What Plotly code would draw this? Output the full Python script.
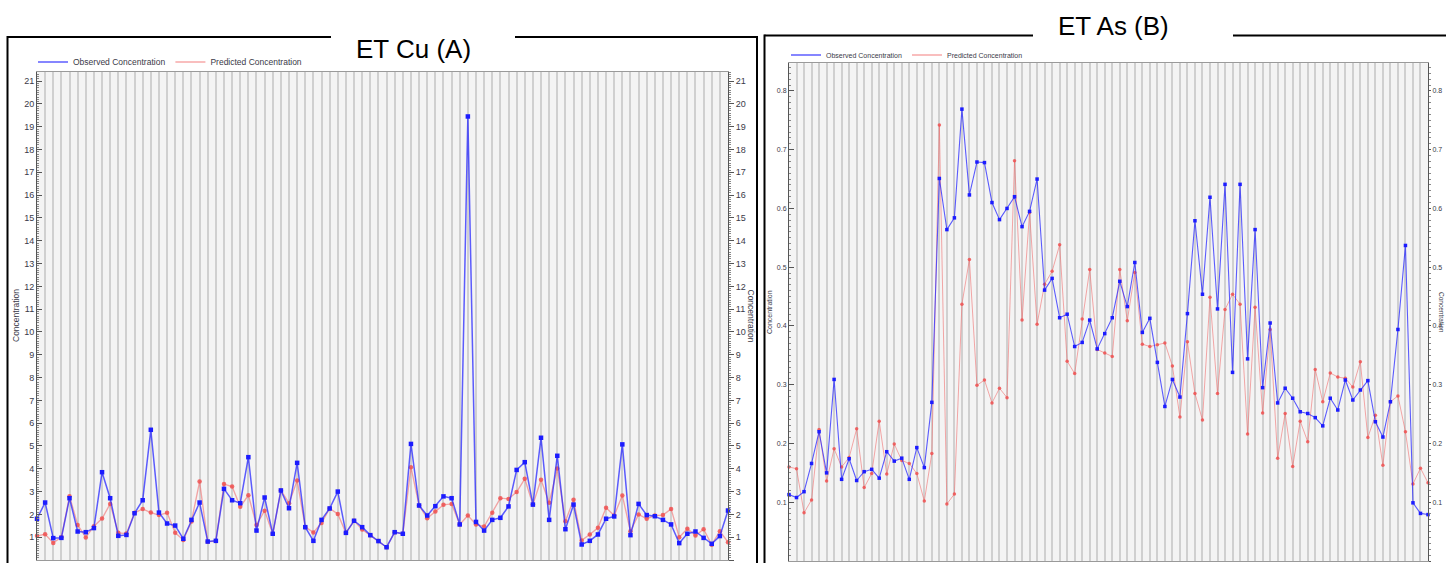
import plotly.graph_objects as go

# Sample numbers shared by both panels
samples = list(range(1, 87))

# ET Cu (A): observed vs predicted concentration
cu_observed = [1.81, 2.52, 0.96, 0.97, 2.71, 1.25, 1.22, 1.40, 3.85, 2.71,
               1.06, 1.10, 2.05, 2.62, 5.71, 2.08, 1.60, 1.51, 0.93, 1.76,
               2.52, 0.81, 0.84, 3.12, 2.62, 2.49, 4.51, 1.29, 2.74, 1.15,
               3.05, 2.27, 4.26, 1.44, 0.84, 1.76, 2.26, 3.00, 1.19, 1.72,
               1.44, 1.09, 0.83, 0.56, 1.22, 1.15, 5.09, 2.39, 1.95, 2.36,
               2.79, 2.71, 1.56, 19.45, 1.67, 1.29, 1.76, 1.85, 2.35, 3.95,
               4.29, 2.43, 5.36, 1.76, 4.57, 1.35, 2.43, 0.68, 0.84, 1.12,
               1.81, 1.91, 5.07, 1.09, 2.46, 1.97, 1.92, 1.76, 1.56, 0.74,
               1.15, 1.25, 0.97, 0.71, 1.05, 2.17]
cu_predicted = [1.06, 1.13, 0.75, 1.00, 2.80, 1.54, 0.99, 1.48, 1.82, 2.46,
                1.19, 1.16, 2.07, 2.24, 2.08, 1.97, 2.07, 1.19, 0.88, 1.69,
                3.44, 0.80, 0.83, 3.33, 3.22, 2.33, 2.84, 1.54, 2.16, 1.15,
                3.05, 2.49, 3.49, 1.44, 1.21, 1.62, 2.26, 2.02, 1.19, 1.72,
                1.34, 1.09, 0.83, 0.56, 1.22, 1.15, 4.07, 2.39, 1.83, 2.13,
                2.42, 2.46, 1.56, 1.95, 1.56, 1.47, 2.07, 2.71, 2.68, 2.98,
                3.56, 2.43, 3.52, 2.51, 4.01, 1.70, 2.64, 0.86, 1.12, 1.41,
                2.29, 1.95, 2.83, 1.26, 2.00, 1.81, 1.95, 1.97, 2.24, 1.00,
                1.37, 1.07, 1.35, 0.67, 1.26, 0.78]

# ET As (B): observed vs predicted concentration
as_observed = [0.113, 0.108, 0.118, 0.166, 0.220, 0.150, 0.309, 0.139, 0.174, 0.137,
               0.152, 0.156, 0.141, 0.186, 0.170, 0.175, 0.139, 0.193, 0.159, 0.270,
               0.651, 0.564, 0.584, 0.769, 0.623, 0.679, 0.678, 0.610, 0.581, 0.600,
               0.620, 0.569, 0.595, 0.650, 0.461, 0.481, 0.414, 0.420, 0.365, 0.372,
               0.410, 0.361, 0.387, 0.414, 0.476, 0.433, 0.508, 0.389, 0.413, 0.338,
               0.263, 0.309, 0.279, 0.421, 0.579, 0.454, 0.619, 0.429, 0.641, 0.321,
               0.641, 0.344, 0.564, 0.295, 0.405, 0.269, 0.294, 0.277, 0.254, 0.251,
               0.244, 0.230, 0.277, 0.257, 0.308, 0.274, 0.291, 0.307, 0.237, 0.211,
               0.271, 0.394, 0.537, 0.099, 0.081, 0.079]
as_predicted = [0.160, 0.157, 0.082, 0.104, 0.224, 0.136, 0.191, 0.160, 0.176, 0.225,
                0.125, 0.149, 0.238, 0.148, 0.199, 0.171, 0.166, 0.149, 0.102, 0.183,
                0.742, 0.097, 0.114, 0.437, 0.513, 0.299, 0.308, 0.269, 0.294, 0.278,
                0.681, 0.410, 0.593, 0.403, 0.471, 0.493, 0.538, 0.340, 0.319, 0.412,
                0.496, 0.360, 0.354, 0.348, 0.496, 0.409, 0.491, 0.369, 0.365, 0.368,
                0.371, 0.332, 0.245, 0.373, 0.285, 0.240, 0.449, 0.285, 0.428, 0.454,
                0.437, 0.216, 0.432, 0.252, 0.394, 0.175, 0.251, 0.161, 0.238, 0.203,
                0.326, 0.271, 0.320, 0.313, 0.311, 0.296, 0.339, 0.210, 0.248, 0.163,
                0.271, 0.281, 0.220, 0.131, 0.158, 0.133]

series_names = ["Observed Concentration", "Predicted Concentration"]
panel_titles = ["ET Cu (A)", "ET As (B)"]
axis_title = "Concentration"

W, H = 1446, 563
FONT = "Liberation Sans, Arial, sans-serif"
BLUE_LINE = "rgba(40,40,255,0.75)"
BLUE_MARK = "#1c1cff"
RED_LINE = "rgba(240,110,110,0.6)"
RED_MARK = "rgba(240,80,80,0.85)"
TICK_COLOR = "#3a3a48"


def px(x):
    return x / W


def py(y):
    return 1 - y / H


fig = go.Figure()

# --- data traces -----------------------------------------------------------
panels = [
    ("x", "y", "y3", "legend", cu_observed, cu_predicted, 1.5, 4.5),
    ("x2", "y2", "y4", "legend2", as_observed, as_predicted, 1.1, 3.5),
]
for xa, ya, ya_mirror, leg, obs, pred, lw, ms in panels:
    fig.add_trace(go.Scatter(
        x=samples, y=pred, xaxis=xa, yaxis=ya, mode="lines+markers",
        line=dict(color=RED_LINE, width=lw * 0.9),
        marker=dict(color=RED_MARK, size=ms, symbol="circle"),
        cliponaxis=False, showlegend=False, name=series_names[1]))
    fig.add_trace(go.Scatter(
        x=samples, y=obs, xaxis=xa, yaxis=ya, mode="lines+markers",
        line=dict(color=BLUE_LINE, width=lw),
        marker=dict(color=BLUE_MARK, size=ms, symbol="square"),
        cliponaxis=False, showlegend=False, name=series_names[0]))
    # invisible copy that carries the right-hand mirrored axis
    fig.add_trace(go.Scatter(
        x=samples, y=obs, xaxis=xa, yaxis=ya_mirror, mode="lines",
        line=dict(color="rgba(0,0,0,0)", width=0), hoverinfo="skip",
        showlegend=False))
    # legend entries (line samples only)
    fig.add_trace(go.Scatter(
        x=[None], y=[None], xaxis=xa, yaxis=ya, mode="lines",
        line=dict(color=BLUE_LINE, width=1.5), name=series_names[0], legend=leg))
    fig.add_trace(go.Scatter(
        x=[None], y=[None], xaxis=xa, yaxis=ya, mode="lines",
        line=dict(color=RED_LINE, width=1.5), name=series_names[1], legend=leg))

# --- axes ------------------------------------------------------------------
xcommon = dict(range=[1, 86], dtick=1, showgrid=True, gridcolor="#d0d0d0",
               gridwidth=1.5, showticklabels=False, ticks="", zeroline=False,
               showline=True, linecolor="#9a9a9a", linewidth=1, mirror=True)

left_y_dom = [py(560), py(72)]
right_y_dom = [py(561), py(63.3)]


def cu_axis(side):
    return dict(range=[0, 21.4], dtick=1, side=side,
                ticks="inside" if side == "left" else "outside", ticklen=5,
                tickcolor="#555",
                tickfont=dict(size=9, color=TICK_COLOR, family=FONT),
                minor=dict(dtick=0.1, ticks="inside" if side == "left" else "outside",
                           ticklen=2, tickcolor="#888"),
                showgrid=False, zeroline=False, showline=True, linecolor="#555",
                linewidth=1)


def as_axis(side):
    return dict(range=[0, 0.847], dtick=0.1, tickformat=".1f", side=side,
                ticks="inside" if side == "left" else "outside",
                ticklen=5 if side == "left" else 2,
                tickcolor="#555",
                tickfont=dict(size=7, color=TICK_COLOR, family=FONT),
                minor=dict(dtick=0.01, ticks="inside" if side == "left" else "outside",
                           ticklen=2, tickcolor="#888"),
                showgrid=False, zeroline=False, showline=True, linecolor="#555",
                linewidth=1)


fig.update_layout(
    width=W, height=H,
    margin=dict(l=0, r=0, t=0, b=0),
    paper_bgcolor="white", plot_bgcolor="#f4f4f4",
    font=dict(family=FONT, color=TICK_COLOR),
    xaxis=dict(domain=[px(37), px(728)], anchor="y", **xcommon),
    xaxis2=dict(domain=[px(789), px(1428)], anchor="y2", **xcommon),
    yaxis=dict(domain=left_y_dom, anchor="x", **cu_axis("left")),
    yaxis3=dict(domain=left_y_dom, anchor="x", overlaying="y", matches="y",
                **cu_axis("right")),
    yaxis2=dict(domain=right_y_dom, anchor="x2", **as_axis("left")),
    yaxis4=dict(domain=right_y_dom, anchor="x2", overlaying="y2", matches="y2",
                **as_axis("right")),
    legend=dict(orientation="h", x=px(33), y=py(62), xanchor="left",
                yanchor="middle", font=dict(size=8.5, color="#3a3a48"),
                bgcolor="rgba(0,0,0,0)", itemwidth=30),
    legend2=dict(orientation="h", x=px(786), y=py(55), xanchor="left",
                 yanchor="middle", font=dict(size=7, color="#3a3a48"),
                 bgcolor="rgba(0,0,0,0)", itemwidth=30),
    showlegend=True,
)

# --- panel frames (top edge interrupted by the title) -----------------------
frame = dict(color="black", width=2)
segments = [
    (7.5, 37, 331, 37), (515, 37, 757, 37),
    (7.5, 36, 7.5, 570), (757, 36, 757, 570),
    (764.5, 35.5, 1033, 35.5), (1233, 35.5, 1450, 35.5),
    (764.5, 34.5, 764.5, 570),
]
for x0, y0, x1, y1 in segments:
    fig.add_shape(type="line", xref="paper", yref="paper",
                  x0=px(x0), y0=py(y0), x1=px(x1), y1=py(y1), line=frame)

# --- titles -----------------------------------------------------------------
for text, (x, y) in zip(panel_titles, [(413, 49), (1113, 26)]):
    fig.add_annotation(text=text, xref="paper", yref="paper", x=px(x), y=py(y),
                       xanchor="center", yanchor="middle", showarrow=False,
                       font=dict(size=26, color="black", family=FONT))

# axis titles on both sides of each panel
for x, y, ang, size in [(16, 316, -90, 8.5), (750.5, 316, 90, 8.5),
                        (769, 312, -90, 7), (1442, 312, 90, 6.5)]:
    fig.add_annotation(text=axis_title, xref="paper", yref="paper",
                       x=px(x), y=py(y), xanchor="center", yanchor="middle",
                       showarrow=False, textangle=ang,
                       font=dict(size=size, color=TICK_COLOR, family=FONT))

fig.write_html("out.html")
